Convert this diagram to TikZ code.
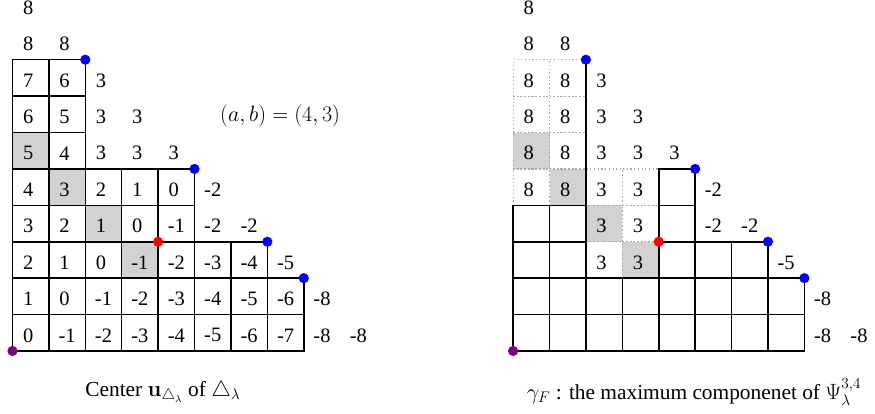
\documentclass[tikz,border=0pt]{standalone}
\usepackage[no-math]{fontspec}
\setmainfont{Liberation Serif}
\usepackage{amsmath,amssymb}
\definecolor{shadegray}{RGB}{210,210,210}
\definecolor{dotgray}{RGB}{170,170,170}
\definecolor{dotpurple}{RGB}{128,0,128}
\begin{document}
\begin{tikzpicture}[x=1cm,y=1cm,
  cellbox/.style={draw=black,line width=1.2pt},
  dcellbox/.style={draw=dotgray,dotted,line width=0.9pt},
  shadebox/.style={fill=shadegray},
  lab/.style={font=\fontsize{16}{19}\selectfont,inner sep=0pt,yshift=-2pt},
  plab/.style={lab,xshift=-2pt},
  caption/.style={font=\fontsize{16.7}{20}\selectfont,inner sep=0pt},
  bdot/.style={fill=blue},
  rdot/.style={fill=red},
  pdot/.style={fill=dotpurple}]
\useasboundingbox (-0.343,-1.73) rectangle (23.69,9.64);

% ===== Left figure =====
\foreach \c/\r in {0/5,1/4,2/3,3/2} {\fill[shadebox] (\c,\r) rectangle ++(1,1);}
\foreach \r/\n in {0/8,1/8,2/7,3/5,4/5,5/2,6/2,7/2} {
  \pgfmathtruncatemacro\m{\n-1}
  \foreach \c in {0,...,\m} {
    \draw[cellbox] (\c,\r) rectangle ++(1,1);
    \pgfmathtruncatemacro\v{\r-\c}
    \ifnum\v<0
      \node[lab] (L\r-\c) at (\c+0.5,\r+0.5) {\v};
    \else
      \node[plab] (L\r-\c) at (\c+0.5,\r+0.5) {\v};
    \fi
  }
}
\foreach \r/\c/\t in {9/0/8,8/0/8,8/1/8,7/2/3,6/2/3,6/3/3,5/2/3,5/3/3,5/4/3} {
  \node[plab] (Lo\r-\c) at (\c+0.5,\r+0.5) {\t};
}
\foreach \r/\c/\t in {4/5/-2,3/5/-2,3/6/-2,2/7/-5,1/8/-8,0/8/-8,0/9/-8} {
  \node[lab] (Lo\r-\c) at (\c+0.5,\r+0.5) {\t};
}
\node[caption] (ab) at (7.35,6.45) {$(a,b)=(4,3)$};
\foreach \x/\y in {2/8,5/5,7/3,8/2} {\fill[bdot] (\x,\y) circle (0.14);}
\fill[rdot] (4,3) circle (0.14);
\fill[pdot] (0,0) circle (0.14);
\node[caption] (capL) at (4.13,-1.13) {Center $\mathbf{u}_{\triangle_\lambda}$ of $\triangle_\lambda$};

% ===== Right figure =====
\begin{scope}[xshift=13.75cm]
\foreach \c/\r in {0/5,1/4,2/3,3/2} {\fill[shadebox] (\c,\r) rectangle ++(1,1);}
\foreach \c/\r in {0/7,1/7,0/6,1/6,0/5,1/5,0/4,1/4,2/4,3/4,2/3,3/3,2/2,3/2} {
  \draw[dcellbox] (\c,\r) rectangle ++(1,1);
}
\foreach \c/\r in {0/0,1/0,2/0,3/0,4/0,5/0,6/0,7/0,0/1,1/1,2/1,3/1,4/1,5/1,6/1,7/1,
                   0/2,1/2,4/2,5/2,6/2,0/3,1/3,4/3,4/4} {
  \draw[cellbox] (\c,\r) rectangle ++(1,1);
}
\coordinate (Rtop) at (2,8);
\coordinate (Rbot) at (2,0);
\draw[line width=1.2pt] (Rtop) -- (Rbot);
\foreach \r/\c/\t in {7/0/8,7/1/8,6/0/8,6/1/8,5/0/8,5/1/8,4/0/8,4/1/8,4/2/3,4/3/3,3/2/3,3/3/3,2/2/3,2/3/3,
                      9/0/8,8/0/8,8/1/8,7/2/3,6/2/3,6/3/3,5/2/3,5/3/3,5/4/3} {
  \node[plab] (R\r-\c) at (\c+0.5,\r+0.5) {\t};
}
\foreach \r/\c/\t in {4/5/-2,3/5/-2,3/6/-2,2/7/-5,1/8/-8,0/8/-8,0/9/-8} {
  \node[lab] (R\r-\c) at (\c+0.5,\r+0.5) {\t};
}
\foreach \x/\y in {2/8,5/5,7/3,8/2} {\fill[bdot] (\x,\y) circle (0.14);}
\fill[rdot] (4,3) circle (0.14);
\fill[pdot] (0,0) circle (0.14);
\node[caption] (capR) at (4.97,-1.13) {$\gamma_F$ : the maximum componenet of $\Psi^{3,4}_\lambda$};
\end{scope}
\end{tikzpicture}
\end{document}
